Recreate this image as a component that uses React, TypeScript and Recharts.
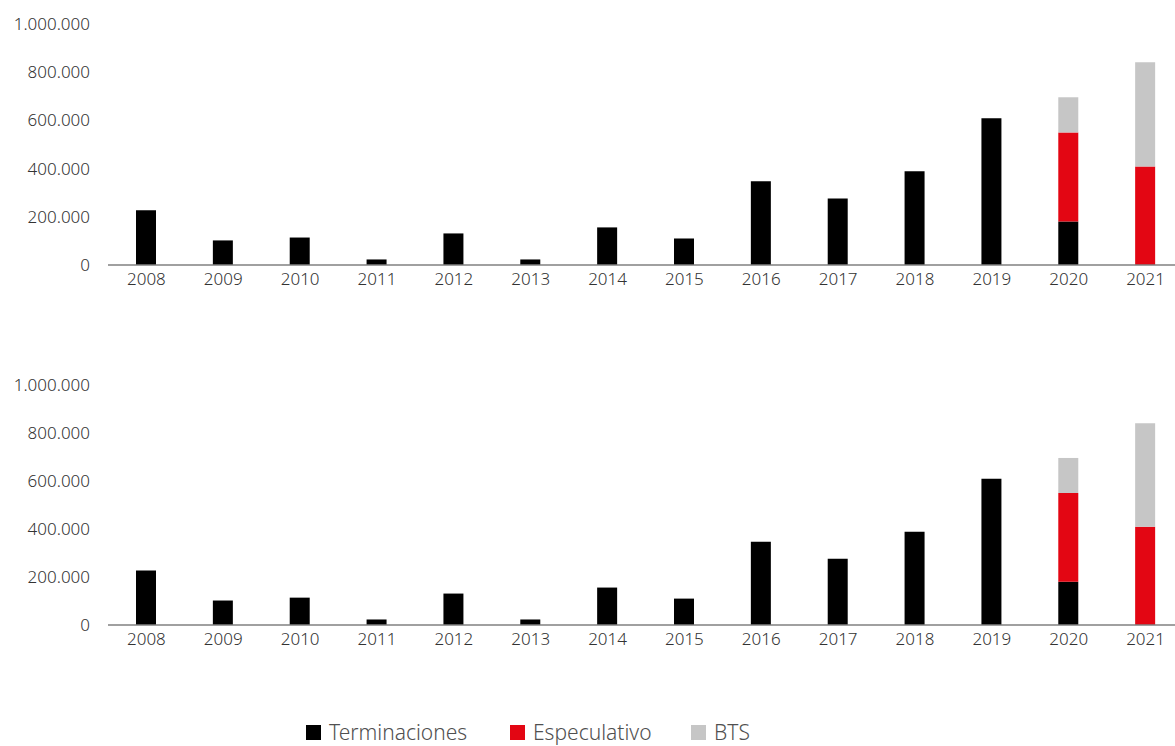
import React from 'react';
import { BarChart, Bar, XAxis, YAxis, Legend } from 'recharts';

const years = ['2008', '2009', '2010', '2011', '2012', '2013', '2014', '2015', '2016', '2017', '2018', '2019', '2020', '2021'];
const terminaciones = [227000, 102000, 114000, 23000, 131000, 23000, 156000, 110000, 347000, 276000, 389000, 609000, 180000, 0];
const especulativo = [0, 0, 0, 0, 0, 0, 0, 0, 0, 0, 0, 0, 370000, 409000];
const bts = [0, 0, 0, 0, 0, 0, 0, 0, 0, 0, 0, 0, 146000, 432000];
const yTicks = [0, 200000, 400000, 600000, 800000, 1000000];

const seriesKeys = ['terminaciones', 'especulativo', 'bts'];
const seriesNames = ['Terminaciones', 'Especulativo', 'BTS'];
const seriesColors = ['#000000', '#e30613', '#c6c6c6'];

const data = years.map((year, i) => ({
  year,
  terminaciones: terminaciones[i],
  especulativo: especulativo[i],
  bts: bts[i],
}));

const font = '"Noto Sans", sans-serif';
const textColor = '#333333';

// 1000000 -> "1.000.000"
const formatThousands = (v: number) => String(v).replace(/\B(?=(\d{3})+(?!\d))/g, '.');

const legendItemWidths = [204, 181, 80];

function LegendContent() {
  return (
    <div style={{ display: 'flex', alignItems: 'center', height: 20, fontFamily: font }}>
      {seriesNames.map((name, i) => (
        <div key={name} style={{ display: 'flex', alignItems: 'center', width: legendItemWidths[i] }}>
          <span style={{ width: 15, height: 15, background: seriesColors[i], marginRight: 8, display: 'inline-block' }} />
          <span style={{ fontSize: 21, fontWeight: 300, color: '#505050', lineHeight: '20px' }}>{name}</span>
        </div>
      ))}
    </div>
  );
}

function Panel({ height, xAxisHeight, withLegend }: { height: number; xAxisHeight: number; withLegend?: boolean }) {
  return (
    <BarChart
      width={1184}
      height={height}
      data={data}
      barSize={20}
      margin={{ top: 24, right: 0, left: 0, bottom: withLegend ? 0 : 66 }}
    >
      <XAxis
        dataKey="year"
        interval={0}
        height={xAxisHeight}
        axisLine={{ stroke: '#808080', strokeWidth: 1.5 }}
        tickLine={false}
        tickSize={0}
        tickMargin={8}
        tick={{ fontFamily: font, fontSize: 17, fontWeight: 300, fill: textColor }}
      />
      <YAxis
        width={108}
        domain={[0, 1000000]}
        ticks={yTicks}
        interval={0}
        axisLine={false}
        tickLine={false}
        tickSize={0}
        tickMargin={18}
        tickFormatter={formatThousands}
        tick={{ fontFamily: font, fontSize: 17, fontWeight: 300, fill: textColor }}
      />
      {withLegend && (
        <Legend verticalAlign="bottom" content={<LegendContent />} wrapperStyle={{ left: 306, width: 600, bottom: 4 }} />
      )}
      {seriesKeys.map((key, i) => (
        <Bar
          key={key}
          dataKey={key}
          name={seriesNames[i]}
          stackId="a"
          fill={seriesColors[i]}
          isAnimationActive={false}
        />
      ))}
    </BarChart>
  );
}

export default function App() {
  return (
    <div
      style={{
        position: 'fixed',
        top: 0,
        left: 0,
        width: 1175,
        height: 746,
        overflow: 'hidden',
        fontFamily: font,
        background: '#ffffff',
      }}
    >
      <Panel height={361} xAxisHeight={30} />
      <Panel height={385} xAxisHeight={101} withLegend />
    </div>
  );
}
